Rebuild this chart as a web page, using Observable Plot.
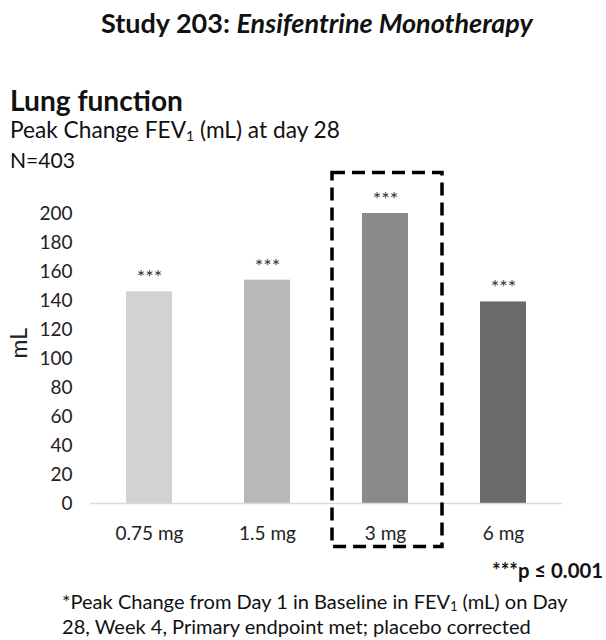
<!DOCTYPE html>
<html>
<head>
<meta charset="utf-8">
<script src="https://cdn.jsdelivr.net/npm/d3@7"></script>
<script src="https://cdn.jsdelivr.net/npm/@observablehq/plot@0.6"></script>
<style>
  html, body { margin: 0; padding: 0; background: #fff; }
  #page { position: relative; width: 606px; height: 640px; font-family: Lato, "Open Sans", sans-serif; color: #111; overflow: hidden; }
  .abs { position: absolute; white-space: nowrap; line-height: 1; }
  #chart { left: 0; top: 160px; line-height: normal; }
  .title { font-weight: bold; }
  .bold { font-weight: bold; }
  sub { font-size: 0.62em; vertical-align: -0.2em; line-height: 0; }
</style>
</head>
<body>
<div id="page">
  <div class="abs" id="chart"></div>
</div>
<script>
// Data
const doses = ["0.75 mg", "1.5 mg", "3 mg", "6 mg"];
const peakChange = [146, 154, 200, 139];
const significance = ["***", "***", "***", "***"];
const barColors = ["#d2d2d2", "#b8b8b8", "#8a8a8a", "#6a6a6a"];
const yTicks = [0, 20, 40, 60, 80, 100, 120, 140, 160, 180, 200];
const highlightDose = ["3 mg"];
const highlightRange = [-30, 228];

// Texts
const titleHTML = "Study 203: <i>Ensifentrine Monotherapy</i>";
const headingText = "Lung function";
const subtitleHTML = "Peak Change FEV<sub>1</sub> (mL) at day 28";
const nText = "N=403";
const pText = "***p ≤ 0.001";
const footLines = [
  "*Peak Change from Day 1 in Baseline in FEV<sub>1</sub> (mL) on Day",
  "28, Week 4, Primary endpoint met; placebo corrected"
];

const rows = doses.map((d, i) => ({dose: d, value: peakChange[i], sig: significance[i], color: barColors[i]}));
const highlight = highlightDose.map(d => ({dose: d, lo: highlightRange[0], hi: highlightRange[1]}));

const chart = Plot.plot({
  width: 606,
  height: 400,
  marginLeft: 90,
  marginRight: 44,
  marginTop: 53,
  marginBottom: 57,
  style: {fontFamily: "Lato, sans-serif", fontSize: "19px", color: "#222", background: "white"},
  x: {domain: doses, paddingInner: 0.61, paddingOuter: 0.305, label: null, tickSize: 0, tickPadding: 23},
  y: {domain: [0, 200], ticks: yTicks, label: null, tickSize: 0, tickPadding: 18},
  marks: [
    Plot.barY(rows, {x: "dose", y: "value", fill: "color"}),
    Plot.ruleY([0], {stroke: "#d9d9d9", strokeWidth: 1.5}),
    Plot.text(rows, {x: "dose", y: "value", text: "sig", dy: -14, fontSize: 20, fill: "#333"}),
    Plot.barY(highlight, {x: "dose", y1: "lo", y2: "hi", fill: "none", stroke: "#000", strokeWidth: 3.5, strokeDasharray: "13,7", insetLeft: -30, insetRight: -34}),
    Plot.text(["mL"], {frameAnchor: "left", dx: -71, rotate: -90, fontSize: 23, fill: "#222"})
  ]
});
document.getElementById("chart").appendChild(chart);

// Place HTML texts: fit to width, then align cap-centre to a given y
const page = document.getElementById("page");
function place(html, cls, {left, right, width, capY, startSize, lineHeight}) {
  const el = document.createElement("div");
  el.className = "abs " + (cls || "");
  el.innerHTML = html;
  el.style.fontSize = startSize + "px";
  page.appendChild(el);
  const w = el.getBoundingClientRect().width;
  const fs = startSize * width / w;
  el.style.fontSize = fs + "px";
  if (right != null) el.style.right = right + "px"; else el.style.left = left + "px";
  const lh = lineHeight || fs;
  if (lineHeight) el.style.lineHeight = lineHeight + "px";
  const capCentreOffset = (lh - 1.2 * fs) / 2 + 0.987 * fs - 0.36 * fs;
  el.style.top = (capY - capCentreOffset) + "px";
  return fs;
}
place(titleHTML, "title", {left: 101, width: 432, capY: 23, startSize: 24});
place(headingText, "bold", {left: 10, width: 173, capY: 101, startSize: 25});
place(subtitleHTML, "", {left: 10, width: 330, capY: 131, startSize: 20});
place(nText, "", {left: 10, width: 65, capY: 160, startSize: 20});
place(pText, "bold", {right: 3, width: 111, capY: 571, startSize: 16});
place(footLines.join("<br>"), "", {left: 62, width: 506, capY: 602, startSize: 18, lineHeight: 25});
</script>
</body>
</html>
